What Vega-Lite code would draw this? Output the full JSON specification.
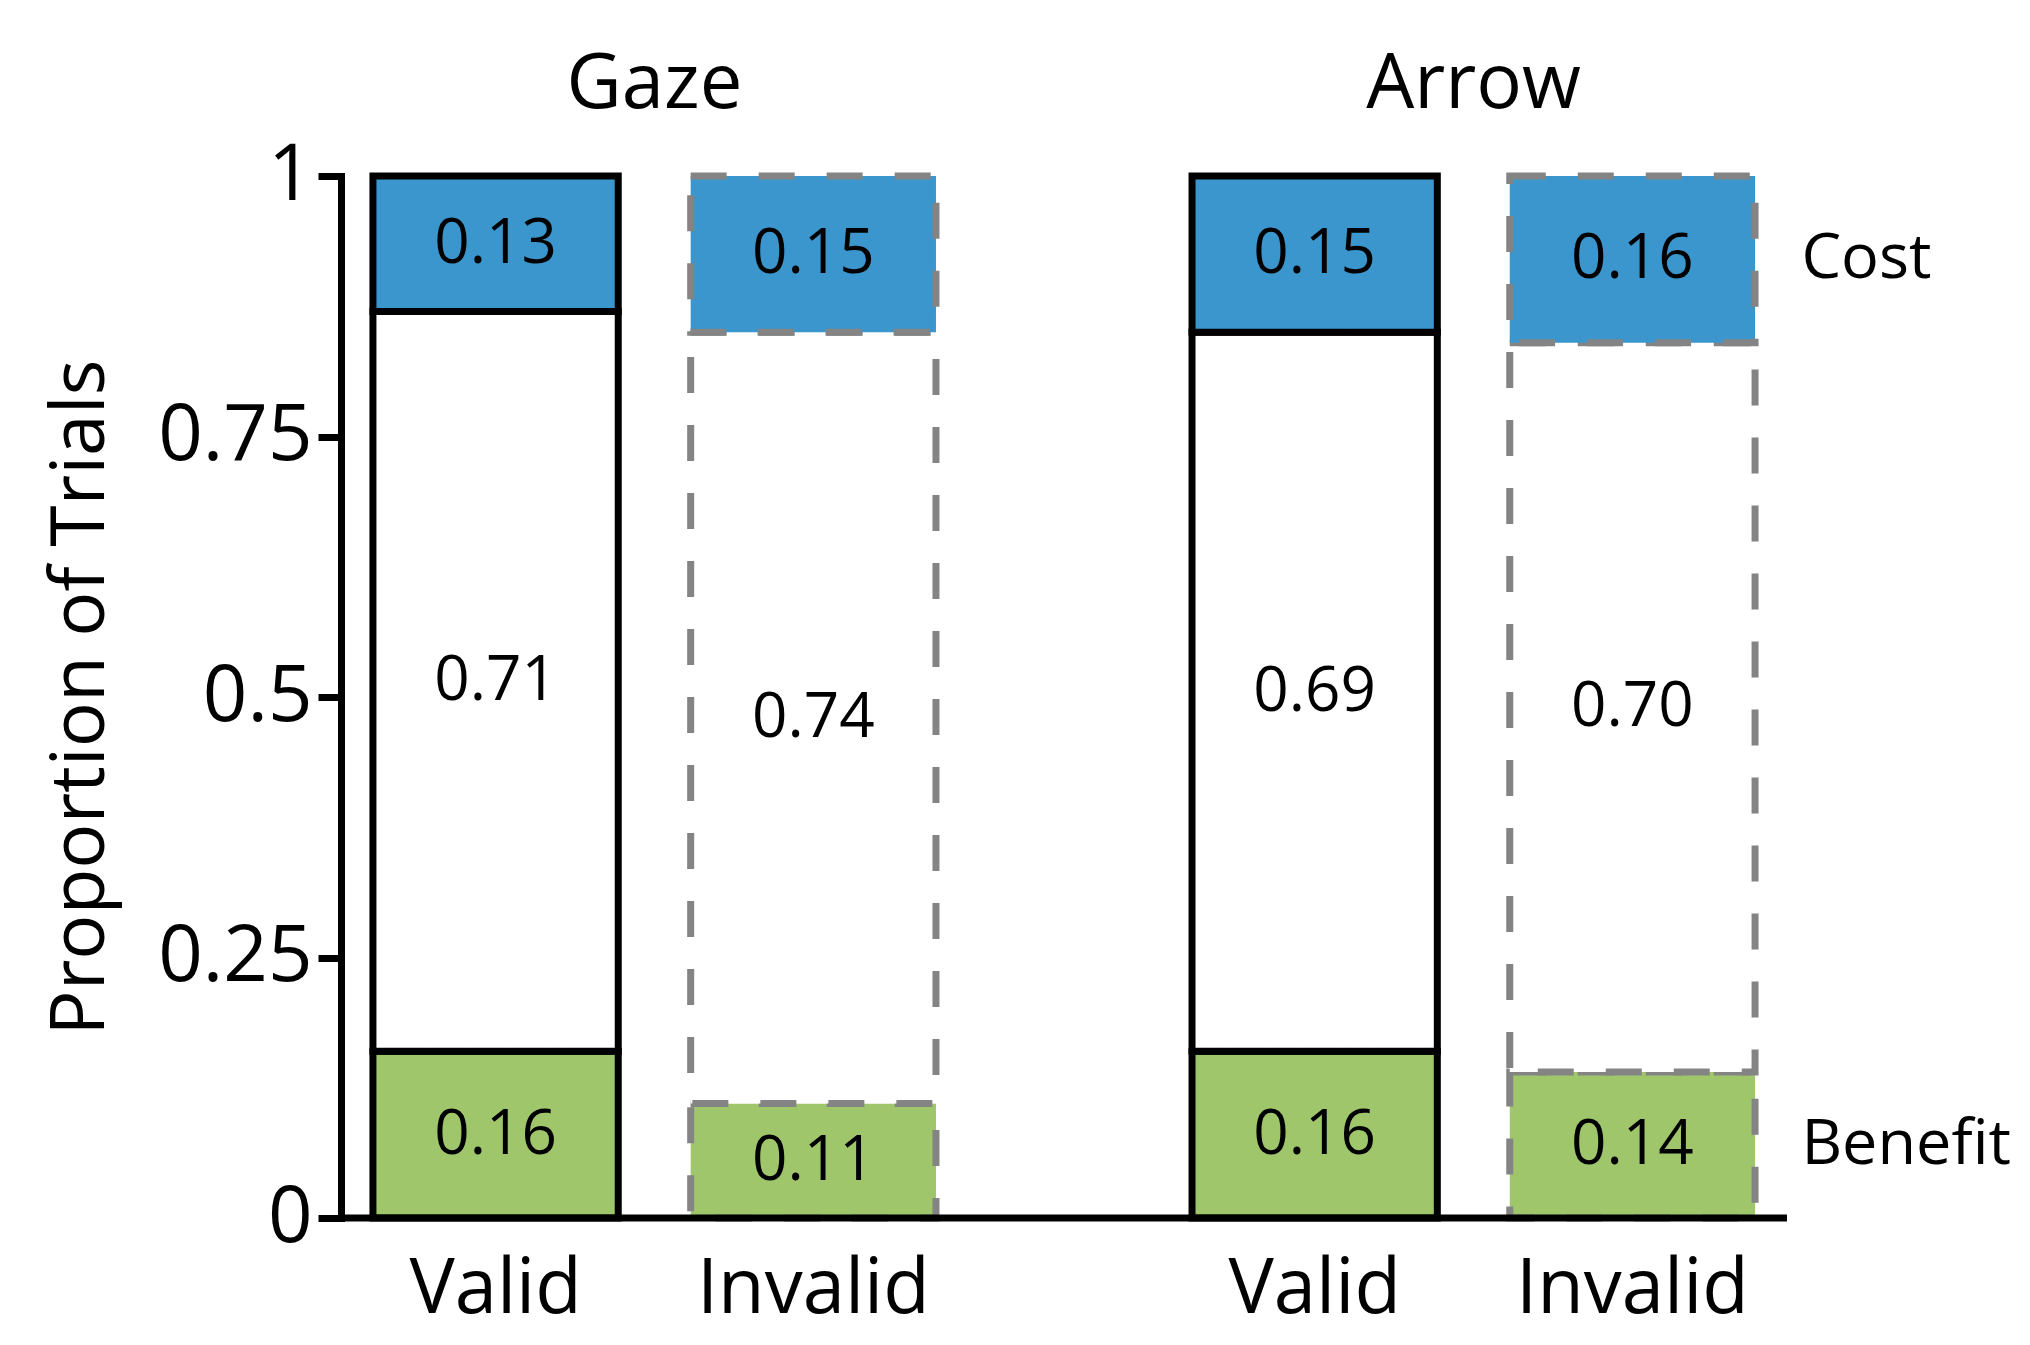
{
  "$schema": "https://vega.github.io/schema/vega-lite/v6.json",
  "width": 1446,
  "height": 1042,
  "autosize": "none",
  "padding": {"left": 341, "top": 176, "right": 243, "bottom": 127},
  "background": "white",
  "config": {
    "view": {"stroke": null},
    "font": "Open Sans",
    "axis": {"grid": false}
  },
  "data": {
    "values": [
      {"group": "Gaze", "cue": "Valid", "segment": "Benefit", "rank": 1, "value": 0.16},
      {"group": "Gaze", "cue": "Valid", "segment": "Neutral", "rank": 2, "value": 0.71},
      {"group": "Gaze", "cue": "Valid", "segment": "Cost", "rank": 3, "value": 0.13},
      {"group": "Gaze", "cue": "Invalid", "segment": "Benefit", "rank": 1, "value": 0.11},
      {"group": "Gaze", "cue": "Invalid", "segment": "Neutral", "rank": 2, "value": 0.74},
      {"group": "Gaze", "cue": "Invalid", "segment": "Cost", "rank": 3, "value": 0.15},
      {"group": "Arrow", "cue": "Valid", "segment": "Benefit", "rank": 1, "value": 0.16},
      {"group": "Arrow", "cue": "Valid", "segment": "Neutral", "rank": 2, "value": 0.69},
      {"group": "Arrow", "cue": "Valid", "segment": "Cost", "rank": 3, "value": 0.15},
      {"group": "Arrow", "cue": "Invalid", "segment": "Benefit", "rank": 1, "value": 0.14},
      {"group": "Arrow", "cue": "Invalid", "segment": "Neutral", "rank": 2, "value": 0.70},
      {"group": "Arrow", "cue": "Invalid", "segment": "Cost", "rank": 3, "value": 0.16}
    ]
  },
  "layer": [
    {
      "mark": {"type": "bar", "strokeWidth": 7},
      "encoding": {
        "x": {
          "field": "group",
          "type": "nominal",
          "sort": ["Gaze", "Arrow"],
          "title": null,
          "scale": {"paddingInner": 0.3126, "paddingOuter": 0.039},
          "axis": {
            "orient": "top",
            "domain": false,
            "ticks": false,
            "tickSize": 0,
            "labelAngle": 0,
            "labelFontSize": 76,
            "labelColor": "black",
            "labelBaseline": "alphabetic",
            "labelPadding": 69,
            "labelLimit": 0
          }
        },
        "xOffset": {
          "field": "cue",
          "type": "nominal",
          "sort": ["Valid", "Invalid"],
          "scale": {"paddingInner": 0.228, "paddingOuter": 0}
        },
        "y": {
          "field": "value",
          "type": "quantitative",
          "stack": "zero",
          "title": "Proportion of Trials",
          "scale": {"domain": [0, 1], "nice": false},
          "axis": {
            "values": [0, 0.25, 0.5, 0.75, 1],
            "format": "~g",
            "domainColor": "black",
            "domainWidth": 7,
            "domainCap": "square",
            "tickColor": "black",
            "tickWidth": 7,
            "tickSize": 23,
            "labelFontSize": 78,
            "labelColor": "black",
            "labelPadding": 6,
            "labelOverlap": false,
            "titleFontSize": 75,
            "titleFontWeight": "normal",
            "titleColor": "black",
            "titlePadding": 38
          }
        },
        "order": {"field": "rank", "type": "quantitative"},
        "fill": {
          "field": "segment",
          "type": "nominal",
          "scale": {"domain": ["Benefit", "Neutral", "Cost"], "range": ["#9FC66B", "#FFFFFF", "#3A96CC"]},
          "legend": null
        },
        "stroke": {
          "field": "cue",
          "type": "nominal",
          "scale": {"domain": ["Valid", "Invalid"], "range": ["#000000", "#848484"]},
          "legend": null
        },
        "strokeDash": {
          "field": "cue",
          "type": "nominal",
          "scale": {"domain": ["Valid", "Invalid"], "range": [[1, 0], [36, 32]]},
          "legend": null
        }
      }
    },
    {
      "data": {"values": [{}]},
      "mark": {"type": "rule", "strokeWidth": 7, "color": "black"},
      "encoding": {"y": {"datum": 0}}
    },
    {
      "mark": {"type": "text", "fontSize": 62, "color": "black", "baseline": "middle"},
      "encoding": {
        "x": {"field": "group", "type": "nominal", "sort": ["Gaze", "Arrow"], "title": null},
        "xOffset": {"field": "cue", "type": "nominal", "sort": ["Valid", "Invalid"]},
        "y": {"field": "value", "type": "quantitative", "stack": "zero", "bandPosition": 0.5, "title": "Proportion of Trials"},
        "order": {"field": "rank", "type": "quantitative"},
        "text": {"field": "value", "type": "quantitative", "format": ".2f"}
      }
    },
    {
      "mark": {"type": "text", "fontSize": 63, "color": "black", "baseline": "middle", "align": "left", "dx": 169},
      "encoding": {
        "x": {"field": "group", "type": "nominal", "sort": ["Gaze", "Arrow"], "title": null},
        "xOffset": {"field": "cue", "type": "nominal", "sort": ["Valid", "Invalid"]},
        "y": {"field": "value", "type": "quantitative", "stack": "zero", "bandPosition": 0.5, "title": "Proportion of Trials"},
        "order": {"field": "rank", "type": "quantitative"},
        "text": {
          "condition": {"test": "datum.group === 'Arrow' && datum.cue === 'Invalid' && datum.segment !== 'Neutral'", "field": "segment"},
          "value": ""
        }
      }
    },
    {
      "transform": [{"filter": "datum.segment === 'Neutral'"}],
      "mark": {"type": "text", "fontSize": 76, "color": "black", "baseline": "alphabetic", "dy": 95},
      "encoding": {
        "x": {"field": "group", "type": "nominal", "sort": ["Gaze", "Arrow"], "title": null},
        "xOffset": {"field": "cue", "type": "nominal", "sort": ["Valid", "Invalid"]},
        "y": {"datum": 0},
        "text": {"field": "cue"}
      }
    }
  ]
}
